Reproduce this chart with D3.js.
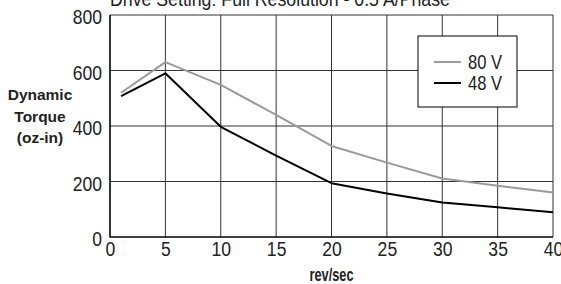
<!DOCTYPE html>
<html>
<head>
<meta charset="utf-8">
<script src="https://cdn.jsdelivr.net/npm/d3@7"></script>
<style>
  body { margin: 0; background: #fff; }
  svg { display: block; }
  text { font-family: "Liberation Sans", Arial, Helvetica, sans-serif; fill: #222; }
  .tick text { font-size: 19.5px; }
</style>
</head>
<body>
<div id="chart"></div>
<script>
// values
var speeds = [1, 5, 10, 15, 20, 25, 30, 35, 40];
var torque80 = [520, 630, 548, 440, 328, 268, 211, 185, 160];
var torque48 = [508, 590, 397, 293, 194, 157, 124, 107, 89];
var xTicks = [0, 5, 10, 15, 20, 25, 30, 35, 40];
var yTicks = [0, 200, 400, 600, 800];
var seriesNames = ["80 V", "48 V"];
var seriesColors = ["#9a9a9a", "#000000"];

var W = 561, H = 284;
var margin = {top: 15, right: 8, bottom: 47, left: 110};

// no narrow font installed, so squeeze text horizontally
function narrow(sel, k) {
  sel.each(function() {
    var t = d3.select(this);
    var x0 = +t.attr("x") || 0;
    t.attr("x", x0 / k).attr("transform", "scale(" + k + ",1)");
    t.selectAll("tspan").each(function() {
      var s = d3.select(this);
      if (s.attr("x") != null) s.attr("x", +s.attr("x") / k);
    });
  });
}

var svg = d3.select("#chart").append("svg")
    .attr("width", W)
    .attr("height", H);

var x = d3.scaleLinear().domain([0, 40]).range([margin.left, W - margin.right]);
var y = d3.scaleLinear().domain([0, 800]).range([H - margin.bottom, margin.top]);

// grid
svg.append("g").selectAll("line")
    .data(xTicks.slice(1))
    .enter().append("line")
    .attr("x1", d => x(d)).attr("x2", d => x(d))
    .attr("y1", y(0)).attr("y2", y(800))
    .attr("stroke", "#333").attr("stroke-width", 1);

svg.append("g").selectAll("line")
    .data(yTicks.slice(1))
    .enter().append("line")
    .attr("x1", x(0)).attr("x2", x(40))
    .attr("y1", d => y(d)).attr("y2", d => y(d))
    .attr("stroke", "#333").attr("stroke-width", 1);

// axes (labels only, lines drawn separately)
svg.append("g")
    .attr("transform", "translate(0," + y(0) + ")")
    .call(d3.axisBottom(x).tickValues(xTicks).tickSize(0).tickPadding(4).tickFormat(d3.format("d")))
    .call(g => g.select(".domain").remove())
    .selectAll("text").attr("dy", "0.71em").attr("y", 5)
    .call(narrow, 0.9);

svg.append("g")
    .attr("transform", "translate(" + (x(0) - 8) + ",0)")
    .call(d3.axisLeft(y).tickValues(yTicks).tickSize(0).tickPadding(0).tickFormat(d3.format("d")))
    .call(g => g.select(".domain").remove())
    .selectAll("text").attr("dy", null).attr("y", 8.5)
    .call(narrow, 0.9);

svg.append("line")
    .attr("x1", x(0)).attr("x2", x(0)).attr("y1", y(0) + 0.5).attr("y2", y(800))
    .attr("stroke", "#000").attr("stroke-width", 1.6);
svg.append("line")
    .attr("x1", x(0)).attr("x2", x(40)).attr("y1", y(0)).attr("y2", y(0))
    .attr("stroke", "#000").attr("stroke-width", 1.6);

// series
var line = d3.line()
    .x((d, i) => x(speeds[i]))
    .y(d => y(d));

[torque80, torque48].forEach(function(vals, k) {
  svg.append("path")
      .datum(vals)
      .attr("d", line)
      .attr("fill", "none")
      .attr("stroke", seriesColors[k])
      .attr("stroke-width", 2)
      .attr("stroke-linejoin", "round");
});

// legend
var leg = svg.append("g").attr("transform", "translate(418,36)");
leg.append("rect")
    .attr("width", 99).attr("height", 71)
    .attr("fill", "#fff").attr("stroke", "#000").attr("stroke-width", 1);
seriesNames.forEach(function(name, k) {
  var ly = 26 + k * 21;
  leg.append("line")
      .attr("x1", 16).attr("x2", 43).attr("y1", ly).attr("y2", ly)
      .attr("stroke", seriesColors[k]).attr("stroke-width", 2);
  leg.append("text")
      .attr("x", 50).attr("y", ly + 7)
      .style("font-size", "19.5px")
      .text(name)
      .call(narrow, 0.85);
});

// title
svg.append("text")
    .attr("x", 110).attr("y", 6)
    .style("font-size", "19.5px")
    .text("Drive Setting: Full Resolution - 0.5 A/Phase")
    .call(narrow, 0.91);

// axis titles
svg.append("text")
    .attr("x", (x(0) + x(40)) / 2).attr("y", 281)
    .attr("text-anchor", "middle")
    .style("font-weight", "bold")
    .style("font-size", "18px")
    .text("rev/sec")
    .call(narrow, 0.71);

svg.append("text")
    .attr("text-anchor", "middle")
    .style("font-weight", "bold")
    .style("font-size", "15.5px")
    .selectAll("tspan")
    .data(["Dynamic", "Torque", "(oz-in)"])
    .enter().append("tspan")
    .attr("x", 40)
    .attr("y", (d, i) => 100 + i * 21.5)
    .text(d => d);
</script>
</body>
</html>
